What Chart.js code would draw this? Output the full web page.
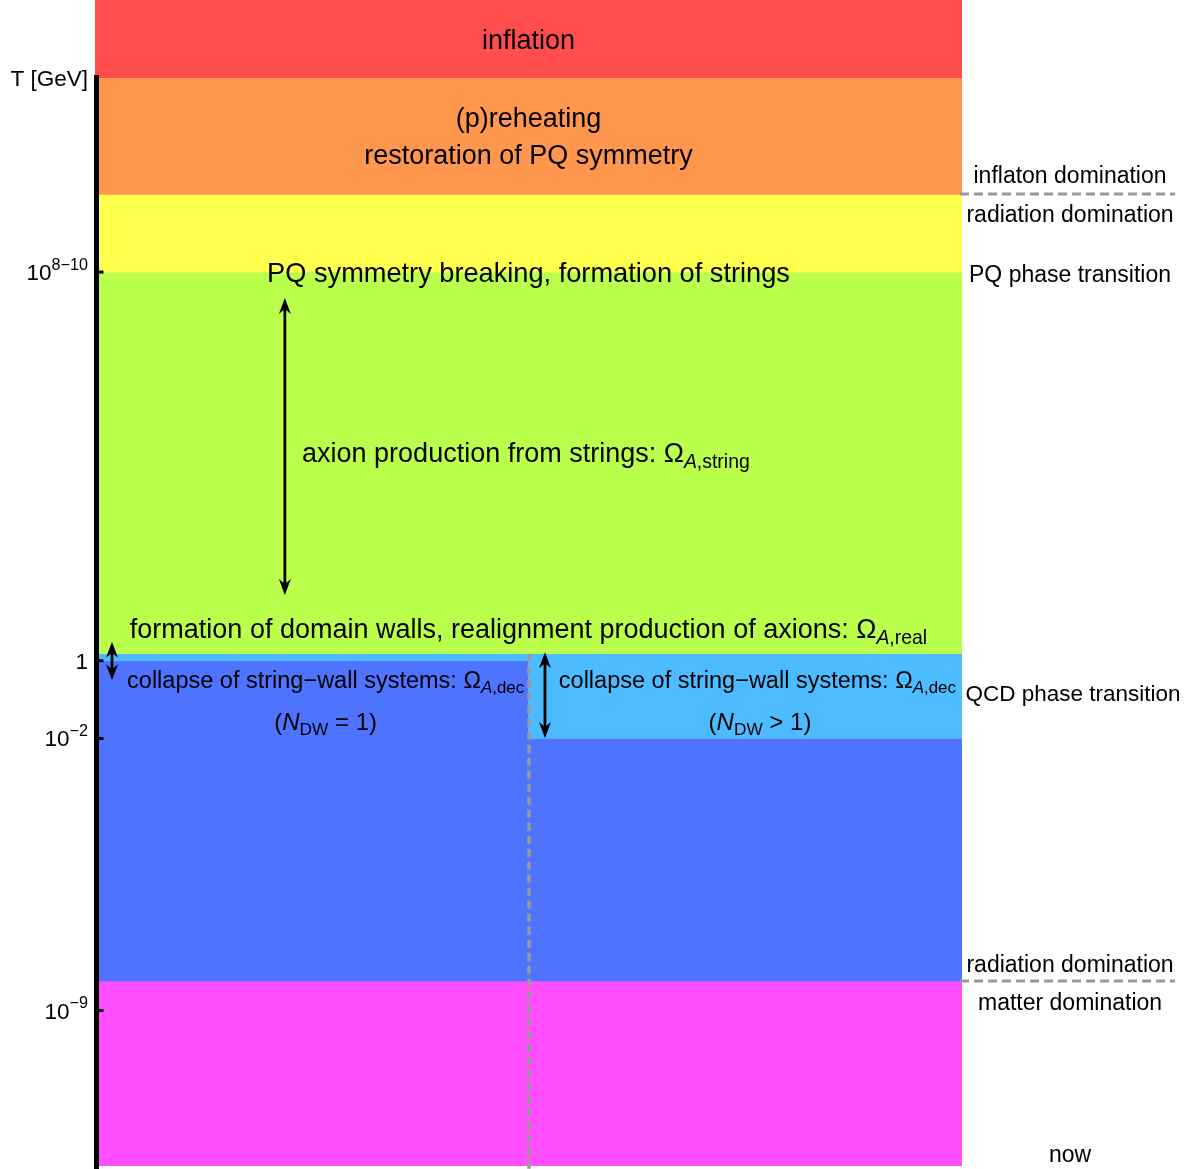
<!DOCTYPE html>
<html><head><meta charset="utf-8">
<script src="https://cdn.jsdelivr.net/npm/chart.js@4.4.1/dist/chart.umd.min.js"></script>
<style>html,body{margin:0;padding:0;background:#fff;} #wrap{width:1193px;height:1169px;position:relative;}</style>
</head><body><div id="wrap"><canvas id="c"></canvas></div>
<script>
// ---- data (log10 of T in GeV) ----
const columns = ['N_DW = 1', 'N_DW > 1'];
const bandNames = ['inflation', 'reheating', 'radiation', 'strings', 'QCD transition', 'string-wall decay', 'matter'];
const bandLowLeft   = [15, 12, 10, 0.18, 0,    -8.24, -13];
const bandHighLeft  = [17, 15, 12, 10,   0.18, 0,     -8.24];
const bandLowRight  = [15, 12, 10, 0.18, -2,   -8.24, -13];
const bandHighRight = [17, 15, 12, 10,   0.18, -2,    -8.24];
const bandColors = ['#FF4D4D', '#FF964D', '#FFFF4D', '#BBFF4D', '#4DBBFF', '#4D73FF', '#FF4DFF'];

const tickValues = [15, 10, 0, -2, -9];
const tickBase   = ['T [GeV]', '10', '1', '10', '10'];
const tickSup    = ['', '8\u221210', '', '\u22122', '\u22129'];
const tickMarks  = [false, true, true, true, true];
const axisTop = 15.07;

const arrowX    = [0.219, 0.0196, 0.519];
const arrowFrom = [9.33, 0.49, 0.22];
const arrowTo   = [1.69, -0.50, -1.99];

const dividerX = 0.5, dividerTop = 0.18;
const sideLinesY = [12, -8.24];
const sideLineX0 = 0.9977, sideLineX1 = 1.2457;

// text annotations: [x (0..1 of plot width), y (log10 T, baseline), size, align, segments]
const texts = [
  [0.5, 15.74, 27, 'center', [{t:'inflation'}]],
  [0.5, 13.73, 27, 'center', [{t:'(p)reheating'}]],
  [0.5, 12.78, 27, 'center', [{t:'restoration of PQ symmetry'}]],
  [0.5, 9.74, 27.2, 'center', [{t:'PQ symmetry breaking, formation of strings'}]],
  [0.2388, 5.11, 27, 'left', [{t:'axion production from strings: \u03A9'}, {t:'A', sub:1, it:1}, {t:',string', sub:1}]],
  [0.5, 0.58, 27, 'center', [{t:'formation of domain walls, realignment production of axions: \u03A9'}, {t:'A', sub:1, it:1}, {t:',real', sub:1}]],
  [0.266, -0.71, 23.5, 'center', [{t:'collapse of string\u2212wall systems: \u03A9'}, {t:'A', sub:1, it:1}, {t:',dec', sub:1}]],
  [0.266, -1.78, 24, 'center', [{t:'('}, {t:'N', it:1}, {t:'DW', sub:1}, {t:' = 1)'}]],
  [0.764, -0.71, 23.5, 'center', [{t:'collapse of string\u2212wall systems: \u03A9'}, {t:'A', sub:1, it:1}, {t:',dec', sub:1}]],
  [0.767, -1.78, 24, 'center', [{t:'('}, {t:'N', it:1}, {t:'DW', sub:1}, {t:' > 1)'}]],
  [1.1246, 12.29, 23, 'center', [{t:'inflaton domination'}]],
  [1.1246, 11.29, 23, 'center', [{t:'radiation domination'}]],
  [1.1246, 9.74, 23, 'center', [{t:'PQ phase transition'}]],
  [1.1280, -1.04, 22.5, 'center', [{t:'QCD phase transition'}]],
  [1.1246, -8.01, 23, 'center', [{t:'radiation domination'}]],
  [1.1246, -8.99, 23, 'center', [{t:'matter domination'}]],
  [1.1246, -12.90, 23, 'center', [{t:'now'}]]
];

const FONT = '"Liberation Sans", Arial, Helvetica, sans-serif';

function drawRich(ctx, segs, x, y, size, align) {
  const parts = segs.map(s => {
    const sz = s.sub ? size * 0.72 : s.sup ? size * 0.72 : size;
    const font = (s.it ? 'italic ' : '') + sz.toFixed(2) + 'px ' + FONT;
    ctx.font = font;
    return {t: s.t, font, w: ctx.measureText(s.t).width, dy: s.sub ? size * 0.22 : s.sup ? -size * 0.45 : 0};
  });
  const total = parts.reduce((a, p) => a + p.w, 0);
  let cx = align === 'center' ? x - total / 2 : align === 'right' ? x - total : x;
  ctx.textAlign = 'left'; ctx.textBaseline = 'alphabetic';
  for (const p of parts) { ctx.font = p.font; ctx.fillText(p.t, cx, y + p.dy); cx += p.w; }
}

function arrowHead(ctx, x, y, dir) {
  const L = 16, W = 6;
  ctx.beginPath();
  ctx.moveTo(x, y);
  ctx.lineTo(x - W, y - dir * L);
  ctx.lineTo(x, y - dir * (L - 5));
  ctx.lineTo(x + W, y - dir * L);
  ctx.closePath();
  ctx.fill();
}

const overlay = {
  id: 'overlay',
  afterDatasetsDraw(chart) {
    const ctx = chart.ctx;
    const xs = chart.scales.xa, ys = chart.scales.y;
    ctx.save();
    // dashed divider
    ctx.strokeStyle = '#999999'; ctx.lineWidth = 3.5; ctx.setLineDash([8, 5]);
    ctx.beginPath();
    const dx = Math.round(xs.getPixelForValue(dividerX));
    ctx.moveTo(dx, ys.getPixelForValue(dividerTop));
    ctx.lineTo(dx, ys.getPixelForValue(-13) + 3);
    ctx.stroke();
    // side dashed lines
    ctx.lineWidth = 3;
    ctx.setLineDash([9, 5]);
    for (const v of sideLinesY) {
      const py = Math.round(ys.getPixelForValue(v));
      ctx.beginPath();
      ctx.moveTo(xs.getPixelForValue(sideLineX0), py);
      ctx.lineTo(xs.getPixelForValue(sideLineX1), py);
      ctx.stroke();
    }
    ctx.setLineDash([]);
    // arrows
    ctx.strokeStyle = '#000'; ctx.fillStyle = '#000'; ctx.lineWidth = 2.8;
    arrowX.forEach((ax, i) => {
      const px = xs.getPixelForValue(ax);
      const y0 = ys.getPixelForValue(arrowFrom[i]), y1 = ys.getPixelForValue(arrowTo[i]);
      ctx.beginPath(); ctx.moveTo(px, y0 + 10); ctx.lineTo(px, y1 - 10); ctx.stroke();
      arrowHead(ctx, px, y0, -1);
      arrowHead(ctx, px, y1, 1);
    });
    // texts
    ctx.fillStyle = '#000';
    for (const [tx, ty, size, align, segs] of texts) {
      drawRich(ctx, segs, xs.getPixelForValue(tx), ys.getPixelForValue(ty), size, align);
    }
    // axis line
    const axX = chart.chartArea.left + 1.5;
    ctx.fillStyle = '#000';
    const aTop = ys.getPixelForValue(axisTop), aBot = ys.getPixelForValue(-13);
    ctx.fillRect(axX - 2.5, aTop, 5, aBot - aTop + 3);
    // ticks and labels
    tickValues.forEach((v, i) => {
      const py = ys.getPixelForValue(v);
      if (tickMarks[i]) ctx.fillRect(axX + 2, py - 1.5, 5, 3);
      const segs = [{t: tickBase[i]}];
      if (tickSup[i]) segs.push({t: tickSup[i], sup: 1});
      drawRich(ctx, segs, 88, py + 8, 22.5, 'right');
    });
    ctx.restore();
  }
};

const datasets = bandNames.map((name, i) => ({
  label: name,
  data: [[bandLowLeft[i], bandHighLeft[i]], [bandLowRight[i], bandHighRight[i]]],
  backgroundColor: bandColors[i],
  borderWidth: 0,
  barPercentage: 1,
  categoryPercentage: 1,
  grouped: false
}));

new Chart(document.getElementById('c'), {
  type: 'bar',
  data: { labels: columns, datasets },
  options: {
    responsive: true, maintainAspectRatio: false, animation: false,
    layout: { padding: { left: 95, right: 231, top: 0, bottom: 3 } },
    plugins: { legend: { display: false }, tooltip: { enabled: false } },
    scales: {
      x: { type: 'category', display: false, offset: true },
      xa: { type: 'linear', axis: 'x', position: 'bottom', display: false, offset: false, min: 0, max: 1 },
      y: { type: 'linear', display: false, min: -13, max: 17 }
    }
  },
  plugins: [overlay]
});
</script>
</body></html>
